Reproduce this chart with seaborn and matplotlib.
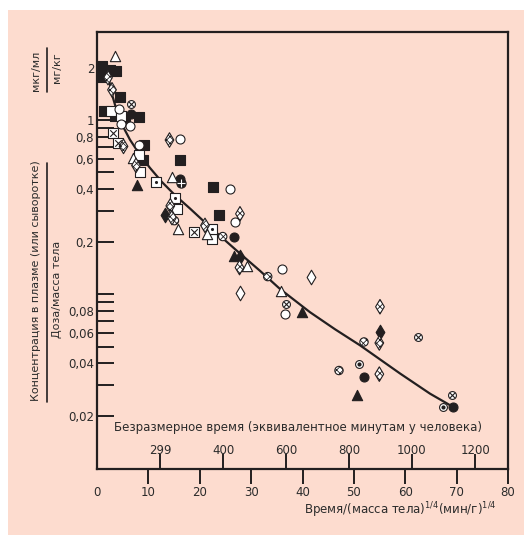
import matplotlib
matplotlib.use("Agg")
import matplotlib.pyplot as plt
import seaborn as sns
from matplotlib.lines import Line2D
from matplotlib.patches import Rectangle
from matplotlib.ticker import FixedLocator, FixedFormatter, NullLocator

# --- data ------------------------------------------------------------------
# fitted curve
curve_x = [2.04, 2.34, 2.92, 3.70, 4.87, 6.42, 8.37, 10.32, 12.65, 15.18, 18.10,
           21.02, 24.33, 27.83, 31.73, 35.62, 41.46, 46.33, 51.19, 58.98, 64.82, 69.29]
curve_y = [1.85, 1.70, 1.40, 1.17, 0.94, 0.77, 0.63, 0.53, 0.44, 0.37, 0.31,
           0.258, 0.211, 0.171, 0.136, 0.107, 0.0787, 0.0628, 0.0508, 0.035, 0.0268, 0.0225]

# filled squares
sq_f_x = [0.97, 2.53, 3.76, 0.97, 4.54, 1.30, 3.45, 8.27, 5.51, 9.21, 8.86, 16.06, 22.52, 23.75]
sq_f_y = [2.03, 1.93, 1.92, 1.77, 1.36, 1.13, 1.06, 1.04, 1.00, 0.715, 0.588, 0.588, 0.412, 0.283]
# open squares
sq_o_x = [2.63, 4.73, 8.27, 8.37, 15.57, 22.48]
sq_o_y = [1.13, 1.06, 0.628, 0.504, 0.310, 0.207]
# squares with a cross
sq_x_x = [3.06, 4.18, 18.88]
sq_x_y = [0.839, 0.742, 0.228]
# squares with a dot
sq_d_x = [11.39, 15.14, 22.48]
sq_d_y = [0.439, 0.355, 0.235]
# filled circles
ci_f_x = [6.62, 16.21, 26.73, 51.97, 69.35]
ci_f_y = [1.08, 0.461, 0.214, 0.0336, 0.0225]
# open circles
ci_o_x = [4.22, 4.73, 6.33, 8.08, 16.16, 25.89, 26.86, 35.95, 36.59]
ci_o_y = [1.16, 0.945, 0.918, 0.715, 0.774, 0.400, 0.261, 0.140, 0.0767]
# circles with a cross
ci_x_x = [6.62, 36.73, 62.54, 69.16]
ci_x_y = [1.24, 0.0873, 0.0567, 0.0264]
# checkered circles
ci_h_x = [15.08, 24.47, 33.23, 51.97, 47.10]
ci_h_y = [0.264, 0.214, 0.126, 0.0531, 0.0364]
# circles with a dot
ci_d_x = [51.00, 67.41]
ci_d_y = [0.0396, 0.0225]
# circle with a plus
ci_p_x = [16.35]
ci_p_y = [0.437]
# filled triangles
tr_f_x = [7.69, 26.57, 39.84, 50.67]
tr_f_y = [0.421, 0.166, 0.0788, 0.0264]
# open triangles
tr_o_x = [3.56, 7.01, 14.60, 15.77, 21.41, 29.14, 35.76]
tr_o_y = [2.32, 0.608, 0.470, 0.237, 0.222, 0.145, 0.104]
# filled diamonds
di_f_x = [13.33, 27.74, 55.08]
di_f_y = [0.283, 0.164, 0.0604]
# open diamonds
di_o_x = [41.65, 27.83]
di_o_y = [0.126, 0.101]
# hatched diamonds
di_h_x = [2.14, 2.92, 5.16, 14.11, 7.59, 14.27, 14.60, 21.02, 27.83, 27.74, 55.08, 54.95, 54.95]
di_h_y = [1.75, 1.49, 0.705, 0.767, 0.548, 0.321, 0.275, 0.248, 0.289, 0.142, 0.0846, 0.0524, 0.0347]

# axis ticks
x_ticks = [0, 10, 20, 30, 40, 50, 60, 70, 80]
sec_ticks = [12.3, 24.6, 36.8, 49.1, 61.3, 73.6]
sec_labels = ['299', '400', '600', '800', '1000', '1200']
y_ticks = [0.02, 0.03, 0.04, 0.05, 0.06, 0.07, 0.08, 0.09,
           0.1, 0.2, 0.3, 0.4, 0.5, 0.6, 0.7, 0.8, 0.9, 1, 2]
y_labels = ['0,02', '', '0,04', '', '0,06', '', '0,08', '',
            '', '0,2', '', '0,4', '', '0,6', '', '0,8', '', '1', '2']

# --- style -----------------------------------------------------------------
sns.set_theme(style="ticks")
plt.rcParams['font.family'] = ['DejaVu Sans']
plt.rcParams['mathtext.fontset'] = 'dejavusans'
plt.rcParams['hatch.color'] = '#231f20'
plt.rcParams['hatch.linewidth'] = 0.6

PEACH = '#fddccf'
INK = '#231f20'
TXT = '#2b2b2b'
FS = 8.5

fig = plt.figure(figsize=(5.24, 5.35), dpi=100, facecolor=PEACH)
# white strips along the top and left edges
fig.add_artist(Rectangle((0, 0.9813), 1, 0.0187, transform=fig.transFigure,
                         facecolor='white', edgecolor='none', zorder=0))
fig.add_artist(Rectangle((0, 0), 0.0153, 1, transform=fig.transFigure,
                         facecolor='white', edgecolor='none', zorder=0))
ax = fig.add_axes([0.1851, 0.1234, 0.7844, 0.8168])
ax.set_facecolor(PEACH)

# curve
sns.lineplot(x=curve_x, y=curve_y, ax=ax, color=INK, lw=1.6, sort=False,
             estimator=None, zorder=2)


def pts(xs, ys, marker, fc, s=42, ec=INK, lw=0.8, hatch=None, z=3):
    kw = {'hatch': hatch} if hatch else {}
    sns.scatterplot(x=xs, y=ys, ax=ax, marker=marker, color=fc, edgecolor=ec,
                    linewidth=lw, s=s, legend=False, zorder=z, **kw)


pts(sq_f_x, sq_f_y, 's', INK)
pts(sq_o_x, sq_o_y, 's', 'white')
pts(sq_x_x, sq_x_y, 's', 'white')
ax.scatter(sq_x_x, sq_x_y, marker='x', s=22, color=INK, linewidth=0.8, zorder=4)
pts(sq_d_x, sq_d_y, 's', 'white')
ax.scatter(sq_d_x, sq_d_y, marker='o', s=5, color=INK, linewidth=0, zorder=4)

pts(ci_f_x, ci_f_y, 'o', INK)
pts(ci_o_x, ci_o_y, 'o', 'white')
pts(ci_x_x, ci_x_y, 'o', 'white', s=32)
ax.scatter(ci_x_x, ci_x_y, marker='x', s=14, color=INK, linewidth=0.8, zorder=4)
pts(ci_h_x, ci_h_y, 'o', 'white', s=36, hatch='xxxxx')
pts(ci_d_x, ci_d_y, 'o', 'white', s=32)
ax.scatter(ci_d_x, ci_d_y, marker='o', s=9, color=INK, linewidth=0, zorder=4)
pts(ci_p_x, ci_p_y, 'o', INK, s=44)
ax.scatter(ci_p_x, ci_p_y, marker='+', s=30, color='white', linewidth=0.8, zorder=4)

pts(tr_f_x, tr_f_y, '^', INK, s=55)
pts(tr_o_x, tr_o_y, '^', 'white', s=55)

pts(di_f_x, di_f_y, 'd', INK, s=55)
pts(di_o_x, di_o_y, 'd', 'white', s=55)
pts(di_h_x, di_h_y, 'd', 'white', s=55, hatch='xxxxx')

# axes
ax.set_xlim(0, 80)
ax.set_yscale('log')
ax.set_ylim(0.0099, 3.2)
ax.set_xticks(x_ticks)
ax.set_xticklabels([str(v) for v in x_ticks])
ax.xaxis.get_major_ticks()[0].tick1line.set_visible(False)
ax.yaxis.set_major_locator(FixedLocator(y_ticks))
ax.yaxis.set_major_formatter(FixedFormatter(y_labels))
ax.yaxis.set_minor_locator(NullLocator())
ax.xaxis.set_minor_locator(NullLocator())
ax.tick_params(axis='x', direction='out', length=11, width=1.4, pad=1,
               labelsize=FS, color=INK, labelcolor=TXT)
ax.tick_params(axis='y', direction='in', length=12, width=1.4, pad=2,
               labelsize=FS, color=INK, labelcolor=TXT)
for sp in ax.spines.values():
    sp.set_color(INK)
    sp.set_linewidth(1.6)
    sp.set_visible(True)
ax.grid(False)

sec = ax.secondary_xaxis('bottom')
sec.set_xticks(sec_ticks, labels=sec_labels)
sec.tick_params(direction='in', length=11, width=1.4, pad=-18, labelsize=FS,
                color=INK, labelcolor=TXT)
sec.spines['bottom'].set_visible(False)

ax.text(0.49, 0.094, 'Безразмерное время (эквивалентное минутам у человека)',
        transform=ax.transAxes, ha='center', va='center', fontsize=FS, color=TXT)

fig.text(497 / 524, 1 - 510 / 535, 'Время/(масса тела)$^{1/4}$(мин/г)$^{1/4}$',
         ha='right', va='center', fontsize=FS, color=TXT)

# y label written as two fractions
fig.text(36 / 524, 1 - 281 / 535, 'Концентрация в плазме (или сыворотке)',
         rotation=90, ha='center', va='center', fontsize=8, color=TXT)
fig.text(57 / 524, 1 - 289 / 535, 'Доза/масса тела',
         rotation=90, ha='center', va='center', fontsize=8, color=TXT)
fig.text(36 / 524, 1 - 71 / 535, 'мкг/мл',
         rotation=90, ha='center', va='center', fontsize=8, color=TXT)
fig.text(57 / 524, 1 - 68 / 535, 'мг/кг',
         rotation=90, ha='center', va='center', fontsize=8, color=TXT)
fig.add_artist(Line2D([47 / 524, 47 / 524], [1 - 163 / 535, 1 - 402 / 535],
                      color=INK, lw=1.2, transform=fig.transFigure))
fig.add_artist(Line2D([47 / 524, 47 / 524], [1 - 48 / 535, 1 - 92 / 535],
                      color=INK, lw=1.2, transform=fig.transFigure))

fig.savefig('out.png', dpi=100, facecolor=PEACH)
